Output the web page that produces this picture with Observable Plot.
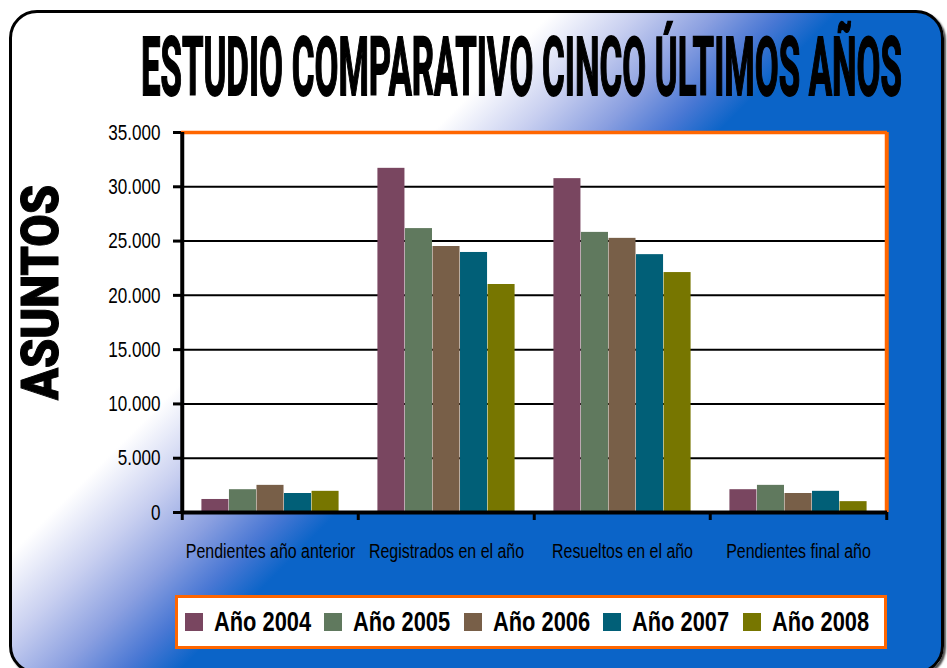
<!DOCTYPE html>
<html><head><meta charset="utf-8">
<script src="https://cdn.jsdelivr.net/npm/d3@7"></script>
<script src="https://cdn.jsdelivr.net/npm/@observablehq/plot@0.6"></script>
<style>
html,body{margin:0;padding:0;background:#fff;overflow:hidden;}
#root{position:relative;width:947px;height:668px;overflow:hidden;}
#card{position:absolute;left:9px;top:10px;width:935px;height:664px;box-sizing:border-box;border:3px solid #000;border-radius:28px;
 background:linear-gradient(135deg,#ffffff 0%,#ffffff 34%,#c8cff0 39.5%,#8a9fe0 44.5%,#4a78d4 48.5%,#0b64c8 52%,#0b64c8 100%);
 box-shadow:2px 2px 2px rgba(0,0,0,.7);}
#chart{position:absolute;left:0;top:0;}
#overlay{position:absolute;left:0;top:0;pointer-events:none;}
#legendBox{position:absolute;left:175px;top:595px;width:712px;height:54px;box-sizing:border-box;border:3.5px solid #ff6600;background:#fff;padding-left:6.5px;display:flex;align-items:center;}
#legendBox .lg-swatches{margin:0;font-family:"Liberation Sans";font-weight:bold;font-size:28px;color:#000;min-height:0;}
#legendBox .lg-swatch{width:139.5px;margin:0;white-space:nowrap;}
#legendBox .lg-swatch > svg{margin-right:11px;}
#legendBox .lbl{display:inline-block;transform:scaleX(0.78);transform-origin:left center;white-space:nowrap;}
</style></head>
<body>
<div id="root">
  <div id="card"></div>
  <div id="chart"></div>
  <svg id="overlay" width="947" height="668">
    <text id="title" font-family="Roboto" font-weight="bold" font-size="82" fill="#000" stroke="#000" stroke-width="1.5" vector-effect="non-scaling-stroke">ESTUDIO COMPARATIVO CINCO ÚLTIMOS AÑOS</text>
    <text id="ylab" font-family="Roboto" font-weight="900" font-size="51" fill="#000" stroke="#000" stroke-width="1" vector-effect="non-scaling-stroke">ASUNTOS</text>
  </svg>
  <div id="legendBox"></div>
</div>
<script>
const categories = ["Pendientes año anterior", "Registrados en el año", "Resueltos en el año", "Pendientes final año"];
const series = ["Año 2004", "Año 2005", "Año 2006", "Año 2007", "Año 2008"];
const values2004 = [1200, 31700, 30750, 2100];
const values2005 = [2100, 26150, 25800, 2500];
const values2006 = [2500, 24500, 25250, 1750];
const values2007 = [1750, 23950, 23750, 1950];
const values2008 = [1950, 21000, 22100, 1000];
const colors = ["#794660", "#60795e", "#785f48", "#015f77", "#777600"];
const yTicks = [0, 5000, 10000, 15000, 20000, 25000, 30000, 35000];

const valuesBySeries = [values2004, values2005, values2006, values2007, values2008];
const data = series.flatMap((s, i) => categories.map((c, j) => ({cat: c, serie: s, value: valuesBySeries[i][j]})));

const fmt = d3.formatLocale({decimal: ",", thousands: ".", grouping: [3], currency: ["", " €"]}).format(",");

const W = 947, H = 668, mL = 181, mR = 60, mT = 132, mB = 156;
const bw = (W - mL - mR) / categories.length;
const groupFrac = 0.78;
const barW = bw * groupFrac / series.length;
const pad = (bw - barW * series.length) / 2;
const orange = "#ff6600";

const chart = Plot.plot({
  width: W, height: H,
  marginLeft: mL, marginRight: mR, marginTop: mT, marginBottom: mB,
  style: {fontFamily: "'Liberation Sans'", background: "transparent", overflow: "visible", color: "#000"},
  x: {domain: categories, padding: 0, axis: null, label: null},
  y: {domain: [0, 35000], axis: null, label: null},
  color: {domain: series, range: colors},
  marks: [
    Plot.frame({fill: "white", stroke: "none"}),
    Plot.gridY(yTicks, {stroke: "black", strokeOpacity: 1, strokeWidth: 2}),
    ...series.map((s, i) => Plot.barY(data.filter(d => d.serie === s), {
      x: "cat", y: "value", fill: "serie",
      insetLeft: pad + i * barW, insetRight: bw - pad - (i + 1) * barW
    })),
    Plot.ruleY([35000], {stroke: orange, strokeWidth: 3.5}),
    Plot.ruleX([categories[categories.length - 1]], {x: d => d, y1: 0, y2: 35000, dx: bw / 2, stroke: orange, strokeWidth: 4}),
    Plot.ruleX([categories[0]], {x: d => d, y1: 0, y2: 35000, dx: -bw / 2, stroke: "black", strokeWidth: 4}),
    Plot.ruleY([0], {stroke: "black", strokeWidth: 4}),
    Plot.axisY(yTicks, {label: null, tickSize: 8, tickPadding: 13, strokeWidth: 3, fontSize: 22.5, tickFormat: fmt}),
    Plot.axisX(categories, {label: null, tickSize: 8, dx: -bw / 2, strokeWidth: 3, tickFormat: () => ""}),
    Plot.axisX([categories[categories.length - 1]], {label: null, tickSize: 8, dx: bw / 2, strokeWidth: 3, tickFormat: () => ""}),
    Plot.axisX(categories, {label: null, tickSize: 0, tickPadding: 31, fontSize: 21})
  ]
});
document.getElementById("chart").appendChild(chart);

// condense chart texts horizontally (narrow face look)
chart.querySelectorAll("text").forEach(t => {
  const tr = t.getAttribute("transform");
  if (tr) t.setAttribute("transform", tr + " scale(0.76,1)");
  else {
    const x = +t.getAttribute("x") || 0, y = +t.getAttribute("y") || 0;
    t.removeAttribute("x"); t.removeAttribute("y");
    t.setAttribute("transform", `translate(${x},${y}) scale(0.76,1)`);
  }
});

// title and y label, fitted to their widths
function fitText(id, base, target) {
  const t = document.getElementById(id);
  const w = t.getComputedTextLength();
  t.setAttribute("transform", `${base} scale(${target / w},1)`);
}
fitText("title", "translate(141,95)", 761);
fitText("ylab", "translate(58,400) rotate(-90)", 215);

const legend = Plot.legend({
  color: {domain: series, range: colors},
  legend: "swatches",
  swatchSize: 18,
  className: "lg"
});
document.getElementById("legendBox").appendChild(legend);
legend.querySelectorAll(".lg-swatch").forEach(sw => {
  [...sw.childNodes].forEach(n => {
    if (n.nodeType === 3 && n.textContent.trim()) {
      const sp = document.createElement("span");
      sp.className = "lbl";
      sp.textContent = n.textContent;
      sw.replaceChild(sp, n);
    }
  });
});
</script>
</body></html>
